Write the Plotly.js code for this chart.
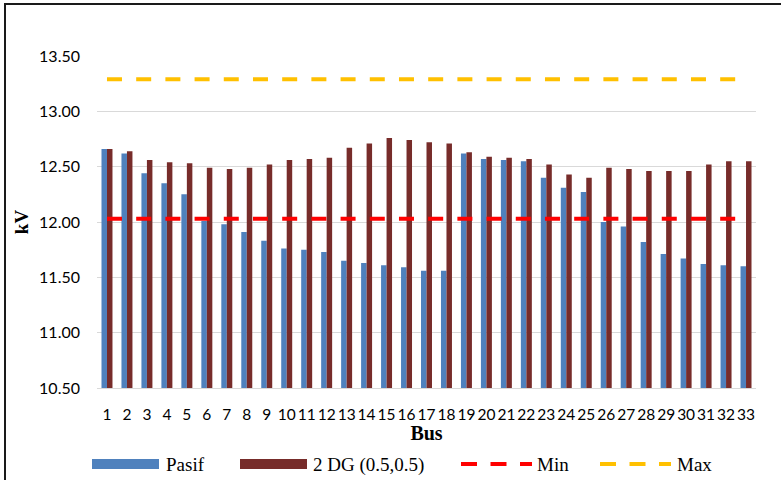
<!DOCTYPE html>
<html>
<head>
<meta charset="utf-8">
<script src="https://cdn.plot.ly/plotly-3.0.1.min.js"></script>
<style>
html,body{margin:0;padding:0;background:#fff;}
#chart{width:781px;height:480px;position:relative;}
#frame{position:absolute;left:4px;top:3px;width:800px;height:500px;border-left:2px solid #1a1a1a;border-top:2px solid #1a1a1a;pointer-events:none;}
</style>
</head>
<body>
<div id="chart"></div>
<div id="frame"></div>
<script>
const buses = ["1","2","3","4","5","6","7","8","9","10","11","12","13","14","15","16","17","18","19","20","21","22","23","24","25","26","27","28","29","30","31","32","33"];
const pasif = [12.66,12.62,12.44,12.35,12.25,12.01,11.98,11.91,11.83,11.76,11.75,11.73,11.65,11.63,11.61,11.59,11.56,11.56,12.62,12.57,12.56,12.55,12.40,12.31,12.27,12.00,11.96,11.82,11.71,11.67,11.62,11.61,11.60];
const dg = [12.66,12.64,12.56,12.54,12.53,12.49,12.48,12.49,12.52,12.56,12.57,12.58,12.67,12.71,12.76,12.74,12.72,12.71,12.63,12.59,12.58,12.57,12.52,12.43,12.40,12.49,12.48,12.46,12.46,12.46,12.52,12.55,12.55];
const minV = [12.03,12.03,12.03,12.03,12.03,12.03,12.03,12.03,12.03,12.03,12.03,12.03,12.03,12.03,12.03,12.03,12.03,12.03,12.03,12.03,12.03,12.03,12.03,12.03,12.03,12.03,12.03,12.03,12.03,12.03,12.03,12.03,12.03];
const maxV = [13.29,13.29,13.29,13.29,13.29,13.29,13.29,13.29,13.29,13.29,13.29,13.29,13.29,13.29,13.29,13.29,13.29,13.29,13.29,13.29,13.29,13.29,13.29,13.29,13.29,13.29,13.29,13.29,13.29,13.29,13.29,13.29,13.29];
const yTicks = [10.5,11.0,11.5,12.0,12.5,13.0,13.5];

const traces = [
  {type:'bar', name:'Pasif', x:buses, y:pasif, marker:{color:'#4f81bd'}},
  {type:'bar', name:'2 DG (0.5,0.5)', x:buses, y:dg, marker:{color:'#772c2a'}},
  {type:'scatter', mode:'lines', name:'Min', x:buses, y:minV, line:{color:'#ff0000', width:4, dash:'15px,14.2px'}},
  {type:'scatter', mode:'lines', name:'Max', x:buses, y:maxV, line:{color:'#ffc000', width:4, dash:'15px,14.2px'}}
];

const layout = {
  width:781, height:480,
  margin:{l:97, r:25, t:56, b:92},
  paper_bgcolor:'#ffffff', plot_bgcolor:'#ffffff',
  barmode:'group', bargap:0.45, bargroupgap:0,
  showlegend:true,
  legend:{orientation:'h', x:0.1, xanchor:'left', yref:'container', y:0.035, yanchor:'middle',
          font:{family:'Liberation Serif', size:19, color:'#000'}, traceorder:'normal', bgcolor:'rgba(0,0,0,0)'},
  xaxis:{type:'category', automargin:false, showgrid:false, showline:true, linecolor:'#d9d9d9', linewidth:1,
         ticks:'', ticklabelstandoff:12, tickangle:0,
         tickfont:{family:'Lato', size:15.5, color:'#000'},
         title:{text:'Bus', font:{family:'Liberation Serif', size:20, color:'#000', weight:'bold'}, standoff:6}},
  yaxis:{range:[10.5,13.5], automargin:false, tickvals:yTicks, tickformat:'.2f', showgrid:true, gridcolor:'#d9d9d9', gridwidth:1,
         zeroline:false, showline:false, ticks:'', ticklabelstandoff:16,
         tickfont:{family:'Lato', size:16, color:'#000'},
         title:{text:'kV', font:{family:'Liberation Serif', size:19, color:'#000', weight:'bold'}, standoff:5}}
};

Plotly.newPlot('chart', traces, layout, {displayModeBar:false, staticPlot:true}).then(function(gd){
  const legend = gd.querySelector('.legend');
  if (!legend) return;
  legend.setAttribute('transform', 'translate(0,0)');
  const sb = legend.querySelector('.scrollbox');
  if (sb) { sb.removeAttribute('clip-path'); sb.setAttribute('transform','translate(0,0)'); }
  const pos = [92, 240, 459, 598];
  const textX = [74, 73, 78, 79];
  legend.querySelectorAll('g.traces').forEach(function(g, i){
    g.setAttribute('transform', 'translate(' + pos[i] + ',464)');
    const txt = g.querySelector('text.legendtext');
    if (txt) txt.setAttribute('x', textX[i]);
    if (i < 2) {
      g.querySelectorAll('.legendpoints path').forEach(function(p){
        p.setAttribute('transform', 'translate(0,0)');
        p.setAttribute('d', 'M0,-5H67V5H0Z');
        p.style.strokeWidth = '0px';
      });
    } else {
      g.querySelectorAll('.legendlines path').forEach(function(p){
        p.setAttribute('transform', 'translate(0,0)');
        p.setAttribute('d', 'M2,0H73');
        p.style.strokeDasharray = '16px,13.5px';
        p.style.strokeWidth = '4px';
      });
    }
  });
});
</script>
</body>
</html>
